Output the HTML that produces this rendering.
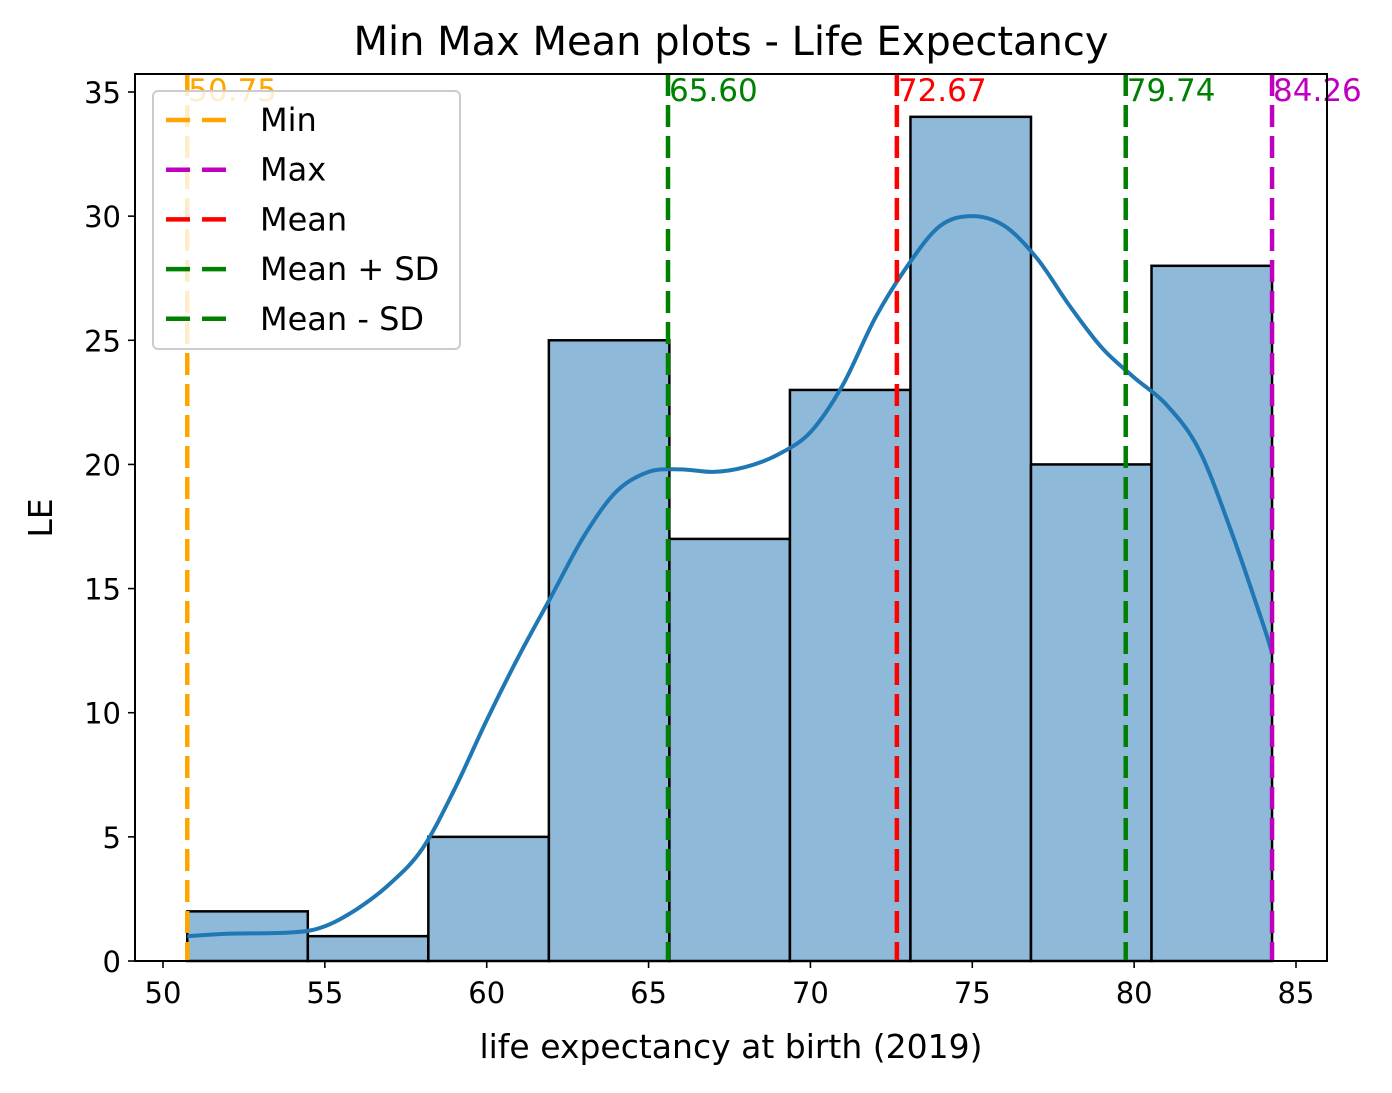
<!DOCTYPE html>
<html><head><meta charset="utf-8"><style>
body{margin:0;background:#fff}
svg text{font-family:"DejaVu Sans","Liberation Sans",sans-serif}
</style></head><body>
<svg id="chart" width="1392" height="1088" xmlns="http://www.w3.org/2000/svg">
<rect width="1392" height="1088" fill="#fff"/>
<text x="731" y="55" font-size="40" text-anchor="middle">Min Max Mean plots - Life Expectancy</text>
<g id="bars"></g><g id="kde"></g><g id="vlines"></g><g id="axes"></g><g id="legend"></g>
</svg>
<script>
const binStart = 50.75;
const binEnd = 84.26;
const counts = [2, 1, 5, 25, 17, 23, 34, 20, 28];
const kdeX = [50.75,52,54,55,56,57,58,59,60,61,62,63,64,65,66,67,68,69,70,71,72,73,74,75,76,77,78,79,80,81,82,83,84,84.26];
const kdeY = [1,1.1,1.15,1.4,2.1,3.1,4.5,6.9,9.7,12.3,14.7,17.1,18.9,19.7,19.8,19.7,19.9,20.4,21.3,23.2,25.9,28,29.6,30,29.6,28.3,26.4,24.7,23.5,22.4,20.6,17.3,13.5,12.4];
const xTicks = [50,55,60,65,70,75,80,85];
const yTicks = [0,5,10,15,20,25,30,35];
const refNames = ["Min","Max","Mean","Mean + SD","Mean - SD"];
const refValues = [50.75, 84.26, 72.67, 79.74, 65.60];
const refColors = ["#ffa500","#bf00bf","#ff0000","#008000","#008000"];

const L=135,R=1327,T=74,B=961;
const X=v=>163+(v-50)*(1296-163)/35;
const Y=v=>961-v*(961-92)/35;
const NS="http://www.w3.org/2000/svg";
function mk(tag,attrs,parent){const e=document.createElementNS(NS,tag);for(const k in attrs)e.setAttribute(k,attrs[k]);parent.appendChild(e);return e;}

const bars=document.getElementById('bars');
const w=(binEnd-binStart)/counts.length;
counts.forEach((c,i)=>{
  const x0=X(binStart+i*w),x1=X(binStart+(i+1)*w);
  const r=mk('rect',{x:x0,y:Y(c),width:x1-x0,height:Y(0)-Y(c),fill:'#8fb9d9',stroke:'#000','stroke-width':2.5},bars);
  
  
});

const kde=document.getElementById('kde');
const pts=kdeX.map((x,i)=>[X(x),Y(kdeY[i])]);
let d='M'+pts[0][0].toFixed(1)+','+pts[0][1].toFixed(1);
for(let i=0;i<pts.length-1;i++){
  const p0=pts[Math.max(0,i-1)],p1=pts[i],p2=pts[i+1],p3=pts[Math.min(pts.length-1,i+2)];
  const c1=[p1[0]+(p2[0]-p0[0])/6,p1[1]+(p2[1]-p0[1])/6];
  const c2=[p2[0]-(p3[0]-p1[0])/6,p2[1]-(p3[1]-p1[1])/6];
  d+='C'+c1[0].toFixed(1)+','+c1[1].toFixed(1)+' '+c2[0].toFixed(1)+','+c2[1].toFixed(1)+' '+p2[0].toFixed(1)+','+p2[1].toFixed(1);
}
const kp=mk('path',{d:d,fill:'none',stroke:'#1f77b4','stroke-width':4,'stroke-linejoin':'round'},kde);



const vl=document.getElementById('vlines');
refValues.forEach((v,i)=>{
  const ln=mk('line',{x1:X(v),x2:X(v),y1:T,y2:B,stroke:refColors[i],'stroke-width':4.5,'stroke-dasharray':'22,9'},vl);
  
  
  const t=mk('text',{x:X(v)+1,y:101,'font-size':31,fill:refColors[i]},vl);
  t.textContent=v.toFixed(2);
  
  
});

const ax=document.getElementById('axes');
const fr=mk('rect',{x:L,y:T,width:R-L,height:B-T,fill:'none',stroke:'#000','stroke-width':2},ax);


xTicks.forEach(v=>{
  mk('line',{x1:X(v),x2:X(v),y1:B,y2:B+7,stroke:'#000','stroke-width':1.6},ax);
  const t=mk('text',{x:X(v),y:B+42,'font-size':29,'text-anchor':'middle'},ax);
  t.textContent=v;
  
  
});
yTicks.forEach(v=>{
  mk('line',{x1:L-7,x2:L,y1:Y(v),y2:Y(v),stroke:'#000','stroke-width':1.6},ax);
  const t=mk('text',{x:L-14,y:Y(v)+11,'font-size':29,'text-anchor':'end'},ax);
  t.textContent=v;
  
  
});
const xl=mk('text',{x:731,y:1058,'font-size':33,'text-anchor':'middle'},ax);
xl.textContent='life expectancy at birth (2019)';


const yl=mk('text',{x:52,y:518,'font-size':33,'text-anchor':'middle',transform:'rotate(-90 52 518)'},ax);
yl.textContent='LE';



const lg=document.getElementById('legend');
const box=mk('rect',{x:153,y:91,width:307,height:258,rx:5,fill:'#fff','fill-opacity':0.8,stroke:'#ccc','stroke-width':2},lg);


refNames.forEach((n,i)=>{
  const y=120+i*49.7;
  const g=mk('g',{},lg);
  
  
  mk('line',{x1:166,x2:228,y1:y,y2:y,stroke:refColors[i],'stroke-width':4.5,'stroke-dasharray':'24,12'},g);
  const t=mk('text',{x:260,y:y+11,'font-size':32},g);
  t.textContent=n;
});
</script>
</body></html>
